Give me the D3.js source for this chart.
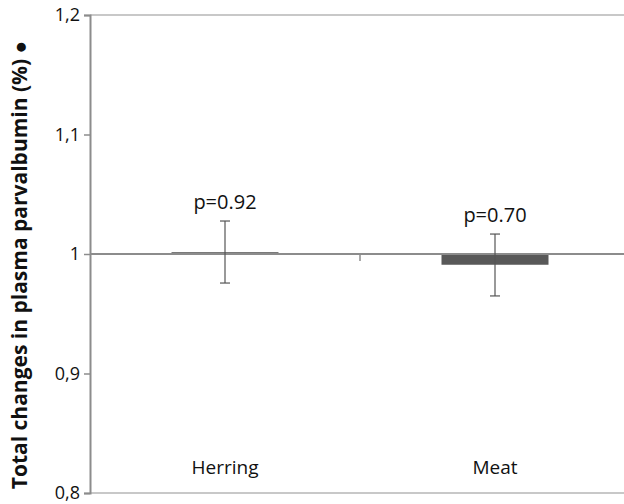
<!DOCTYPE html>
<html>
<head>
<meta charset="utf-8">
<script src="https://cdn.jsdelivr.net/npm/d3@7"></script>
<style>
body { margin: 0; background: #fff; }
svg text { font-family: "Open Sans", sans-serif; }
</style>
</head>
<body>
<svg width="624" height="504"></svg>
<script>
var categories = ["Herring", "Meat"];
var values = [1.0015, 0.991];
var errLow = [0.9757, 0.9649];
var errHigh = [1.0276, 1.0167];
var pLabels = ["p=0.92", "p=0.70"];
var yTicks = [0.8, 0.9, 1, 1.1, 1.2];
var yTickLabels = ["0,8", "0,9", "1", "1,1", "1,2"];

var svg = d3.select("svg");
var padL = 90, padR = 630, padT = 15, padB = 493;

var x = d3.scaleBand().domain(categories).range([padL, padR]).paddingInner(0).paddingOuter(0);
var y = d3.scaleLinear().domain([0.8, 1.2]).range([padB, padT]);

// frame lines top and bottom
svg.append("line").attr("x1", padL).attr("x2", 624).attr("y1", y(1.2)).attr("y2", y(1.2))
    .style("stroke", "#c8c8c8").style("stroke-width", 2);
svg.append("line").attr("x1", padL).attr("x2", 624).attr("y1", y(0.8)).attr("y2", y(0.8))
    .style("stroke", "#c8c8c8").style("stroke-width", 2);

// y axis
var yAxis = d3.axisLeft(y).tickValues(yTicks)
    .tickFormat(function(d, i){ return yTickLabels[i]; })
    .tickSize(6).tickPadding(4);
var gy = svg.append("g").attr("transform", "translate(" + padL + ",0)").call(yAxis);
gy.select(".domain").style("stroke", "#8c8c8c").style("stroke-width", 2);
gy.selectAll(".tick line").style("stroke", "#8c8c8c").style("stroke-width", 1.5);
gy.selectAll(".tick text").style("font-size", "18px").style("fill", "#111")
    .style("font-family", "\"Open Sans\", sans-serif");

// bars
var bw = 107;
svg.selectAll("rect.bar")
    .data(values)
    .enter().append("rect")
    .attr("class", "bar")
    .attr("x", function(d, i){ return x(categories[i]) + x.bandwidth()/2 - bw/2; })
    .attr("width", bw)
    .attr("y", function(d){ return Math.min(y(d), y(1)); })
    .attr("height", function(d){ return Math.max(Math.abs(y(d) - y(1)), 1); })
    .style("fill", "#595959");

// x axis at 1
svg.append("line").attr("x1", padL).attr("x2", 624).attr("y1", y(1)).attr("y2", y(1))
    .style("stroke", "#8c8c8c").style("stroke-width", 2);
svg.selectAll("line.xtick")
    .data(categories.slice(1))
    .enter().append("line")
    .attr("class", "xtick")
    .attr("x1", function(d){ return x(d); })
    .attr("x2", function(d){ return x(d); })
    .attr("y1", y(1)).attr("y2", y(1) + 7)
    .style("stroke", "#8c8c8c").style("stroke-width", 1.5);

// error bars
var cap = 5;
var eb = svg.selectAll("g.err").data(values).enter().append("g").attr("class", "err");
eb.append("line")
    .attr("x1", function(d, i){ return x(categories[i]) + x.bandwidth()/2; })
    .attr("x2", function(d, i){ return x(categories[i]) + x.bandwidth()/2; })
    .attr("y1", function(d, i){ return y(errHigh[i]); })
    .attr("y2", function(d, i){ return y(errLow[i]); });
eb.append("line")
    .attr("x1", function(d, i){ return x(categories[i]) + x.bandwidth()/2 - cap; })
    .attr("x2", function(d, i){ return x(categories[i]) + x.bandwidth()/2 + cap; })
    .attr("y1", function(d, i){ return y(errHigh[i]); })
    .attr("y2", function(d, i){ return y(errHigh[i]); });
eb.append("line")
    .attr("x1", function(d, i){ return x(categories[i]) + x.bandwidth()/2 - cap; })
    .attr("x2", function(d, i){ return x(categories[i]) + x.bandwidth()/2 + cap; })
    .attr("y1", function(d, i){ return y(errLow[i]); })
    .attr("y2", function(d, i){ return y(errLow[i]); });
eb.selectAll("line").style("stroke", "#555").style("stroke-width", 1.2);

// p labels
svg.selectAll("text.p")
    .data(pLabels)
    .enter().append("text")
    .attr("class", "p")
    .attr("x", function(d, i){ return x(categories[i]) + x.bandwidth()/2; })
    .attr("y", function(d, i){ return y(errHigh[i]) - 12; })
    .attr("text-anchor", "middle")
    .style("font-size", "20px")
    .style("fill", "#111")
    .text(function(d){ return d; });

// category labels
svg.selectAll("text.cat")
    .data(categories)
    .enter().append("text")
    .attr("class", "cat")
    .attr("x", function(d){ return x(d) + x.bandwidth()/2; })
    .attr("y", 474)
    .attr("text-anchor", "middle")
    .style("font-size", "19px")
    .style("fill", "#111")
    .text(function(d){ return d; });

// y title
svg.append("text")
    .attr("transform", "translate(27,265) rotate(-90)")
    .attr("text-anchor", "middle")
    .style("font-size", "21px")
    .style("font-weight", "bold")
    .style("fill", "#111")
    .text("Total changes in plasma parvalbumin (%)  \u25CF");
</script>
</body>
</html>
